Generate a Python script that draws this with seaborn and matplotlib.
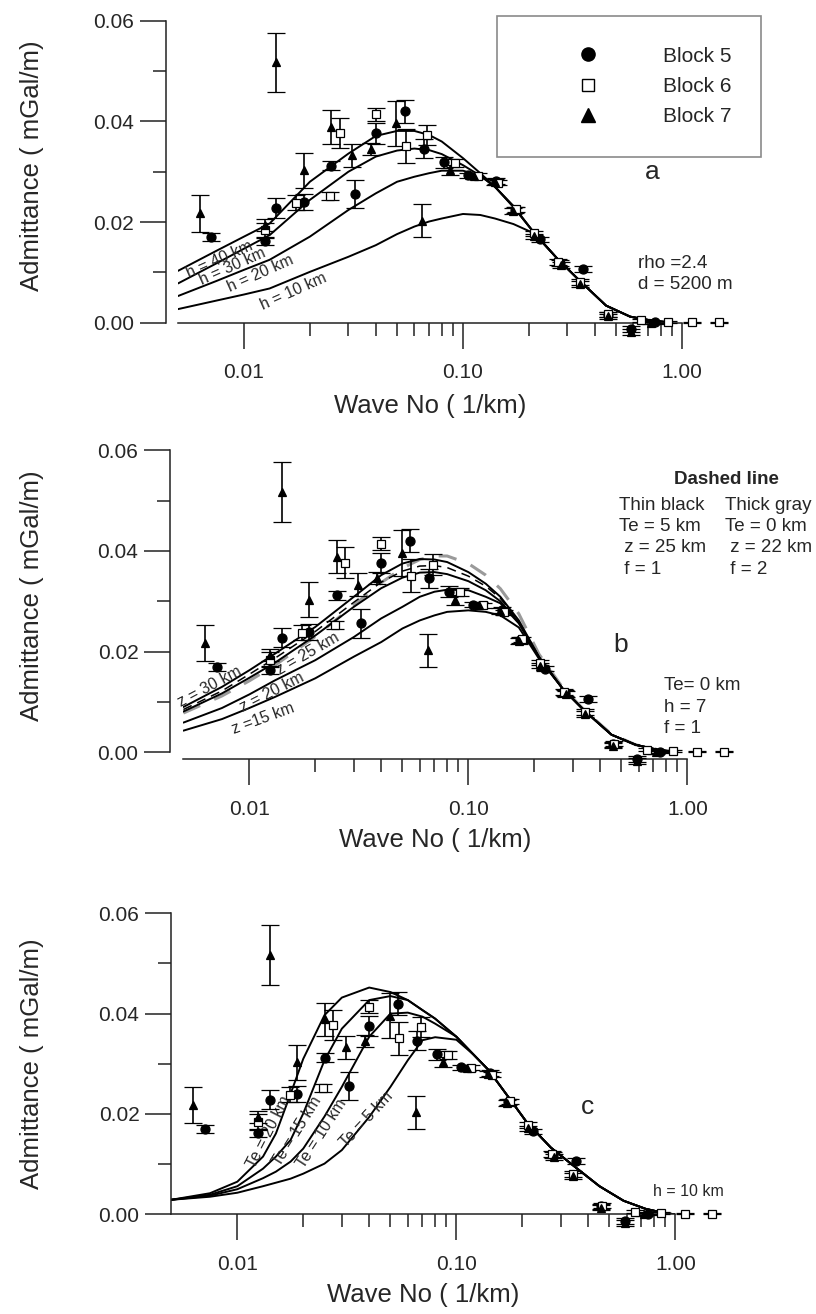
import matplotlib
matplotlib.use("Agg")
import matplotlib.pyplot as plt
import seaborn as sns
from matplotlib.ticker import FixedLocator, NullFormatter
from matplotlib.lines import Line2D

# observed admittance, three blocks (wavenumber 1/km, admittance mGal/m, error)
k_block5 = [0.0071, 0.01245, 0.01406, 0.01875, 0.02506, 0.0322, 0.0399, 0.0542, 0.0664, 0.0818,
            0.1054, 0.142, 0.172, 0.224, 0.277, 0.353, 0.459, 0.587, 0.75]
adm_block5 = [0.0170, 0.0163, 0.0228, 0.0239, 0.0312, 0.0256, 0.0376, 0.0420, 0.0346, 0.0319,
              0.0293, 0.0282, 0.0224, 0.0166, 0.0118, 0.0106, 0.0016, -0.0013, 0.0001]
err_block5 = [0.0008, 0.0008, 0.0019, 0.0016, 0.0009, 0.0028, 0.0020, 0.0023, 0.0019, 0.0011,
              0.0005, 0.0006, 0.0006, 0.0005, 0.0006, 0.0006, 0.0005, 0.0006, 0.0003]

k_block6 = [0.01245, 0.01734, 0.0246, 0.02735, 0.0399, 0.0547, 0.0687, 0.0916, 0.117, 0.145,
            0.175, 0.212, 0.272, 0.341, 0.46, 0.653, 0.863, 1.11, 1.476]
adm_block6 = [0.0184, 0.0238, 0.0252, 0.0377, 0.0414, 0.0351, 0.0373, 0.0318, 0.0292, 0.0278,
              0.0225, 0.0178, 0.0120, 0.0080, 0.0017, 0.0005, 0.0002, 0.0001, 0.0001]
err_block6 = [0.0015, 0.0015, 0.0008, 0.0030, 0.0013, 0.0033, 0.0020, 0.0008, 0.0005, 0.0005,
              0.0005, 0.0005, 0.0006, 0.0006, 0.0005, 0.0003, 0.0002, 0.0001, 0.0001]

k_block7 = [0.00628, 0.01245, 0.01406, 0.01875, 0.02506, 0.03126, 0.0382, 0.0497, 0.0653, 0.0869,
            0.112, 0.14, 0.17, 0.212, 0.28, 0.341, 0.459, 0.587, 0.72]
adm_block7 = [0.0217, 0.0194, 0.0517, 0.0303, 0.0389, 0.0333, 0.0346, 0.0396, 0.0203, 0.0303,
              0.0292, 0.0280, 0.0222, 0.0172, 0.0115, 0.0076, 0.0013, -0.0018, 0.0000]
err_block7 = [0.0036, 0.0012, 0.0059, 0.0035, 0.0033, 0.0023, 0.0012, 0.0045, 0.0033, 0.0010,
              0.0006, 0.0006, 0.0006, 0.0005, 0.0006, 0.0006, 0.0005, 0.0006, 0.0003]

# model curves, panels a and b (read at these wavenumbers)
k_model = [0.005, 0.0075, 0.01, 0.0131, 0.02, 0.03, 0.04, 0.05, 0.06, 0.07, 0.08,
           0.1, 0.12, 0.14, 0.17, 0.21, 0.27, 0.34, 0.45, 0.58, 0.73, 0.9]

h40 = [0.0103, 0.0143, 0.0171, 0.0197, 0.0280, 0.0336, 0.0371, 0.0381, 0.0381, 0.0373, 0.0360,
       0.0327, 0.0297, 0.0270, 0.0230, 0.0180, 0.0127, 0.0084, 0.0034, 0.0012, 0.0004, 0.0]
h30 = [0.0078, 0.0118, 0.0147, 0.0174, 0.0244, 0.0300, 0.0330, 0.0342, 0.0346, 0.0343, 0.0335,
       0.0313, 0.0292, 0.0270, 0.0230, 0.0180, 0.0127, 0.0084, 0.0034, 0.0012, 0.0004, 0.0]
h20 = [0.0053, 0.0083, 0.0105, 0.0125, 0.0171, 0.0224, 0.0257, 0.0280, 0.0290, 0.0297, 0.0302,
       0.0302, 0.0292, 0.0270, 0.0232, 0.0180, 0.0127, 0.0084, 0.0034, 0.0012, 0.0004, 0.0]
h10 = [0.0027, 0.0044, 0.0056, 0.0068, 0.0101, 0.0131, 0.0154, 0.0176, 0.0191, 0.0201, 0.0207,
       0.0216, 0.0214, 0.0207, 0.0196, 0.0178, 0.0127, 0.0084, 0.0034, 0.0012, 0.0004, 0.0]

z30 = [0.0090, 0.0130, 0.0163, 0.0196, 0.0249, 0.0309, 0.0352, 0.0375, 0.0384, 0.0383, 0.0378,
       0.0358, 0.0335, 0.0309, 0.0262, 0.0190, 0.0126, 0.0082, 0.0035, 0.0015, 0.0005, 0.0]
z25 = [0.0081, 0.0117, 0.0148, 0.0178, 0.0232, 0.0289, 0.0326, 0.0347, 0.0357, 0.0358, 0.0354,
       0.0340, 0.0322, 0.0300, 0.0258, 0.0189, 0.0126, 0.0082, 0.0035, 0.0015, 0.0005, 0.0]
z20 = [0.0059, 0.0088, 0.0115, 0.0143, 0.0183, 0.0229, 0.0266, 0.0289, 0.0309, 0.0319, 0.0323,
       0.0322, 0.0309, 0.0296, 0.0256, 0.0188, 0.0126, 0.0082, 0.0035, 0.0015, 0.0005, 0.0]
z15 = [0.0043, 0.0066, 0.0088, 0.0110, 0.0147, 0.0190, 0.0219, 0.0246, 0.0262, 0.0272, 0.0279,
       0.0282, 0.0279, 0.0272, 0.0248, 0.0186, 0.0126, 0.0082, 0.0035, 0.0015, 0.0005, 0.0]
dash_thin = [0.0085, 0.0122, 0.0155, 0.0187, 0.0240, 0.0298, 0.0338, 0.0360, 0.0370, 0.0371, 0.0367,
             0.0350, 0.0330, 0.0306, 0.0260, 0.0190, 0.0126, 0.0082, 0.0035, 0.0015, 0.0005, 0.0]
dash_gray = [0.0078, 0.0112, 0.0142, 0.0173, 0.0230, 0.0292, 0.0337, 0.0366, 0.0383, 0.0390, 0.0390,
             0.0375, 0.0352, 0.0325, 0.0275, 0.0195, 0.0128, 0.0083, 0.0036, 0.0015, 0.0005, 0.0]

# model curves, panel c
k_model_c = [0.005, 0.0075, 0.01, 0.0131, 0.015, 0.0175, 0.02, 0.025, 0.03, 0.04, 0.05, 0.06, 0.07,
             0.08, 0.1, 0.12, 0.14, 0.17, 0.21, 0.27, 0.34, 0.45, 0.58, 0.73, 0.9, 1.0]
te20 = [0.0029, 0.0042, 0.0065, 0.0115, 0.0161, 0.0240, 0.0310, 0.0397, 0.0432, 0.0452, 0.0443, 0.0427, 0.0407,
        0.0390, 0.0354, 0.0318, 0.0288, 0.0238, 0.0183, 0.0133, 0.0098, 0.0056, 0.0027, 0.0011, 0.0002, 0.0]
te15 = [0.0029, 0.0039, 0.0056, 0.0091, 0.0115, 0.0148, 0.0201, 0.0307, 0.0370, 0.0427, 0.0435, 0.0427, 0.0407,
        0.0390, 0.0354, 0.0318, 0.0288, 0.0238, 0.0183, 0.0133, 0.0098, 0.0056, 0.0027, 0.0011, 0.0002, 0.0]
te10 = [0.0029, 0.0037, 0.0050, 0.0072, 0.0085, 0.0105, 0.0131, 0.0195, 0.0254, 0.0354, 0.0400, 0.0402, 0.0394,
        0.0380, 0.0354, 0.0318, 0.0288, 0.0238, 0.0183, 0.0133, 0.0098, 0.0056, 0.0027, 0.0011, 0.0002, 0.0]
te5 = [0.0029, 0.0035, 0.0043, 0.0056, 0.0063, 0.0071, 0.0081, 0.0101, 0.0128, 0.0194, 0.0254, 0.0307, 0.0347,
       0.0353, 0.0348, 0.0318, 0.0288, 0.0238, 0.0183, 0.0133, 0.0098, 0.0056, 0.0027, 0.0011, 0.0002, 0.0]

x_major = [0.01, 0.1, 1.0]
x_major_labels = ["0.01", "0.10", "1.00"]
x_minor = [0.02, 0.03, 0.04, 0.05, 0.06, 0.07, 0.08, 0.09, 0.2, 0.3, 0.4, 0.5, 0.6, 0.7, 0.8, 0.9]
y_major = [0.0, 0.02, 0.04, 0.06]
y_major_labels = ["0.00", "0.02", "0.04", "0.06"]
y_minor = [0.01, 0.03, 0.05]

sns.set_style("ticks")
plt.rcParams["font.family"] = ["Liberation Sans", "DejaVu Sans"]

fig = plt.figure(figsize=(8.16, 13.14), dpi=100)
W, H = 816.0, 1314.0
ax_a = fig.add_axes([178 / W, 1 - 322.7 / H, 504 / W, 302 / H])
ax_b = fig.add_axes([183.4 / W, 1 - 752.3 / H, 504 / W, 302 / H])
ax_c = fig.add_axes([171.4 / W, 1 - 1214.3 / H, 504 / W, 301 / H])


def style_axis(ax, left_off, bottom_off, ylab_xy, xlab_y):
    ax.set_xscale("log")
    ax.set_xlim(0.005, 1.0)
    ax.set_ylim(0.0, 0.06)
    ax.xaxis.set_major_locator(FixedLocator(x_major))
    ax.xaxis.set_minor_locator(FixedLocator(x_minor))
    ax.set_xticklabels(x_major_labels)
    ax.xaxis.set_minor_formatter(NullFormatter())
    ax.yaxis.set_major_locator(FixedLocator(y_major))
    ax.yaxis.set_minor_locator(FixedLocator(y_minor))
    ax.set_yticklabels(y_major_labels)
    sns.despine(ax=ax)
    for s in ["left", "bottom"]:
        ax.spines[s].set_linewidth(1.1)
        ax.spines[s].set_color("#222222")
    ax.spines["left"].set_position(("outward", left_off))
    ax.spines["bottom"].set_position(("outward", bottom_off))
    ax.tick_params(which="major", length=19, width=1.1, color="#222222", labelsize=15)
    ax.tick_params(which="minor", length=9.5, width=1.1, color="#222222")
    ax.tick_params(axis="x", which="major", pad=10)
    ax.tick_params(axis="y", which="major", pad=4)
    ax.set_xlabel("Wave No ( 1/km)", fontsize=18.5)
    ax.set_ylabel("Admittance ( mGal/m)", fontsize=18.5)
    ax.yaxis.set_label_coords(*ylab_xy)
    ax.xaxis.set_label_coords(0.5, xlab_y)
    ax.patch.set_alpha(0)


def draw_blocks(ax):
    series = [
        (k_block5, adm_block5, err_block5, "o", 6.5, "black"),
        (k_block6, adm_block6, err_block6, "s", 6.0, "white"),
        (k_block7, adm_block7, err_block7, "^", 6.0, "black"),
    ]
    for k, a, e, m, ms, fc in series:
        cont = ax.errorbar(k, a, yerr=e, fmt=m, ms=ms, mfc=fc, mec="black", mew=0.9,
                           ecolor="black", elinewidth=1.2, capsize=6.5, capthick=1.2, zorder=4)
        cont[0].set_clip_on(False)
        for c in cont[1]:
            c.set_clip_on(False)
        for c in cont[2]:
            c.set_clip_on(False)


def draw_curve(ax, k, y, **kws):
    sns.lineplot(x=k, y=y, ax=ax, estimator=None, sort=False, **kws)


# ---- panel a
for y in [h40, h30, h20, h10]:
    draw_curve(ax_a, k_model, y, color="black", lw=1.4)
draw_blocks(ax_a)
style_axis(ax_a, 8.6, 0, (-0.266, 0.52), -0.235)

for txt, kx, yv in [("h = 40 km", 0.00774, 0.0125), ("h = 30 km", 0.00891, 0.0111),
                    ("h = 20 km", 0.01188, 0.0098), ("h = 10 km", 0.01687, 0.0062)]:
    ax_a.text(kx, yv, txt, fontsize=11.5, rotation=24, ha="center", va="center")
ax_a.text(0.734, 0.0299, "a", fontsize=19, ha="center", va="center")
ax_a.text(0.629, 0.0118, "rho =2.4", fontsize=13.5, ha="left", va="center")
ax_a.text(0.629, 0.0075, "d = 5200 m", fontsize=13.5, ha="left", va="center")

handles = [Line2D([], [], ls="none", marker="o", ms=9.5, mfc="black", mec="black"),
           Line2D([], [], ls="none", marker="s", ms=9, mfc="white", mec="black", mew=1),
           Line2D([], [], ls="none", marker="^", ms=9.5, mfc="black", mec="black")]
leg = ax_a.legend(handles, ["Block 5", "Block 6", "Block 7"], loc="lower left",
                  bbox_to_anchor=(497 / W, 1 - 156.7 / H), bbox_transform=fig.transFigure,
                  borderaxespad=0, fontsize=15, borderpad=1.45, labelspacing=0.55,
                  handlelength=5.8, handletextpad=0.7, fancybox=False, framealpha=1)
leg.get_frame().set_edgecolor("#8a8a8a")
leg.get_frame().set_linewidth(1.2)

# ---- panel b
draw_curve(ax_b, k_model, dash_gray, color="#9a9a9a", lw=2.2, linestyle=(0, (6, 5)))
for y in [z30, z25, z20, z15]:
    draw_curve(ax_b, k_model, y, color="black", lw=1.4)
draw_curve(ax_b, k_model, dash_thin, color="black", lw=1.1, linestyle=(0, (6, 4)))
draw_blocks(ax_b)
style_axis(ax_b, 9.4, 5, (-0.277, 0.52), -0.25)

for txt, kx, yv, rot in [("z = 30 km", 0.00662, 0.0130, 28), ("z = 25 km", 0.01857, 0.0196, 30),
                         ("z = 20 km", 0.01265, 0.0120, 27), ("z =15 km", 0.0116, 0.0067, 20)]:
    ax_b.text(kx, yv, txt, fontsize=11.5, rotation=rot, ha="center", va="center")
ax_b.text(1.514, 0.0542, "Dashed line", fontsize=13.5, fontweight="bold", ha="center", va="center")
for i, (left_txt, right_txt) in enumerate([("Thin black", "Thick gray"), ("Te = 5 km", "Te = 0 km"),
                                           (" z = 25 km", " z = 22 km"), (" f = 1", " f = 2")]):
    yv = 0.0491 - i * 0.00423
    ax_b.text(0.489, yv, left_txt, fontsize=13.5, ha="left", va="center")
    ax_b.text(1.486, yv, right_txt, fontsize=13.5, ha="left", va="center")
ax_b.text(0.497, 0.0213, "b", fontsize=19, ha="center", va="center")
for i, txt in enumerate(["Te= 0 km", "h = 7", "f = 1"]):
    ax_b.text(0.785, 0.0132 - i * 0.0042, txt, fontsize=13.5, ha="left", va="center")

# ---- panel c
for y in [te20, te15, te10, te5]:
    draw_curve(ax_c, k_model_c, y, color="black", lw=1.4)
draw_blocks(ax_c)
style_axis(ax_c, 0, 0, (-0.253, 0.5), -0.228)

for txt, kx, yv, rot in [("Te = 20 km", 0.01386, 0.0165, 63), ("Te = 15 km", 0.01866, 0.0165, 58),
                         ("Te = 10 km", 0.0243, 0.0161, 57), ("Te = 5 km", 0.039, 0.0189, 47)]:
    ax_c.text(kx, yv, txt, fontsize=11.5, rotation=rot, ha="center", va="center")
ax_c.text(0.396, 0.0213, "c", fontsize=19, ha="center", va="center")
ax_c.text(0.794, 0.0045, "h = 10 km", fontsize=11.5, ha="left", va="center")

fig.savefig("out.png", dpi=100)
